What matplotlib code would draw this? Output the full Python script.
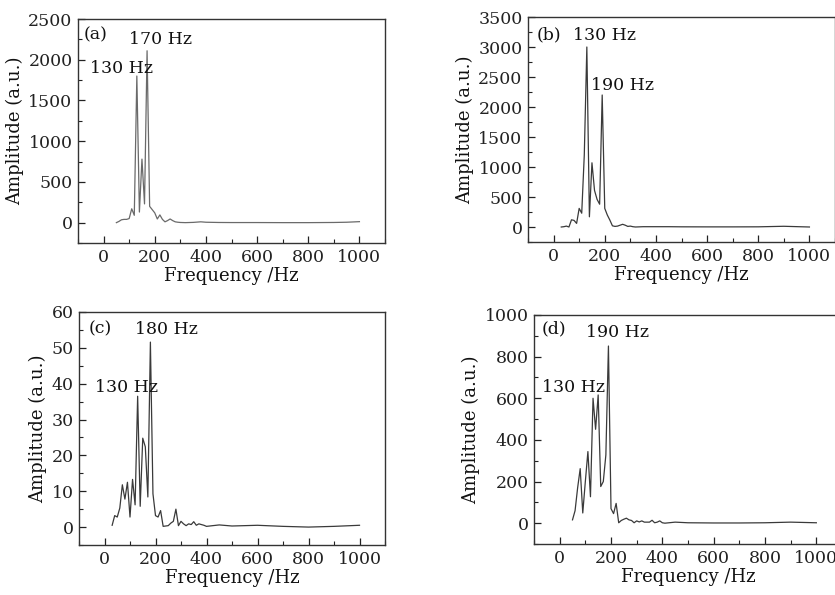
import matplotlib
matplotlib.use("Agg")
import matplotlib.pyplot as plt
from matplotlib.ticker import MultipleLocator, AutoMinorLocator

plt.rcParams['font.family'] = ['DejaVu Serif']
plt.rcParams['mathtext.fontset'] = 'dejavuserif'

# ---------------- data ----------------
freq_a = [50, 60, 70, 80, 90, 100, 110, 120, 130, 140, 150, 160, 170, 180, 190, 200,
          210, 220, 230, 240, 250, 260, 270, 280, 290, 300, 320, 350, 380, 400, 450,
          500, 600, 700, 800, 900, 950, 1000]
amp_a = [0, 15, 35, 40, 40, 50, 170, 90, 1800, 130, 780, 230, 2110, 200, 160, 120,
         45, 95, 40, 10, 25, 45, 25, 10, 5, 2, 0, 3, 10, 5, 2,
         1, 1, 0, 0, 2, 5, 12]

freq_b = [30, 40, 50, 60, 70, 80, 90, 100, 110, 120, 130, 140, 150, 160, 170, 180,
          190, 200, 210, 220, 230, 240, 250, 260, 270, 280, 290, 300, 310, 320, 350,
          400, 450, 500, 600, 700, 800, 900, 1000]
amp_b = [0, 5, 15, 0, 120, 110, 60, 310, 230, 1200, 3000, 170, 1070, 610, 460, 380,
         2200, 310, 200, 115, 20, 10, 15, 30, 45, 30, 10, 15, 5, 0, 5,
         5, 5, 3, 2, 2, 3, 12, 0]

freq_c = [30, 40, 50, 60, 70, 80, 90, 100, 110, 120, 130, 140, 150, 160, 170, 180,
          190, 200, 210, 220, 230, 240, 250, 260, 270, 280, 290, 300, 310, 320, 330,
          340, 350, 360, 370, 380, 390, 400, 450, 500, 600, 700, 800, 900, 1000]
amp_c = [0.5, 3.2, 2.8, 5.3, 11.8, 7.8, 12.5, 2.8, 13.3, 6.2, 36.5, 5.8, 24.8, 22.4, 8.4, 51.6,
         9.3, 3.2, 2.8, 4.6, 0.2, 0.3, 0.4, 1.1, 1.6, 5.0, 0.4, 1.6, 0.9, 0.4, 0.9,
         0.7, 1.5, 0.5, 0.9, 0.7, 0.5, 0.2, 0.6, 0.3, 0.5, 0.2, 0.0, 0.2, 0.5]

freq_d = [50, 60, 70, 80, 90, 100, 110, 120, 130, 140, 150, 160, 170, 180, 190, 200,
          210, 220, 230, 240, 250, 260, 270, 280, 290, 300, 310, 320, 330, 340, 350,
          360, 370, 380, 390, 400, 410, 450, 500, 600, 700, 800, 900, 1000]
amp_d = [16, 60, 170, 262, 49, 200, 344, 127, 600, 451, 616, 176, 200, 328, 851, 70,
         46, 95, 2, 13, 19, 24, 16, 13, 2, 11, 6, 11, 5, 5, 5,
         14, 2, 5, 11, 2, 0, 5, 2, 1, 1, 2, 5, 2]

panel_labels = ["(a)", "(b)", "(c)", "(d)"]
peak_labels = [["130 Hz", "170 Hz"], ["130 Hz", "190 Hz"], ["130 Hz", "180 Hz"], ["130 Hz", "190 Hz"]]
xlabel = "Frequency /Hz"
ylabel = "Amplitude (a.u.)"

W, H = 835, 595
fig = plt.figure(figsize=(W / 100, H / 100), dpi=100)

def rect(l, t, r, b):
    return [l / W, 1 - b / H, (r - l) / W, (b - t) / H]

axes_rects = [rect(78, 19, 385, 243), rect(528, 17, 835, 242),
              rect(79, 312, 385, 545), rect(534, 315, 842, 544)]
ylims = [(-250, 2500), (-250, 3500), (-5, 60), (-100, 1000)]
ymajors = [500, 500, 10, 200]
series = [(freq_a, amp_a), (freq_b, amp_b), (freq_c, amp_c), (freq_d, amp_d)]
line_colors = ["#6a6a6a", "#3a3a3a", "#3a3a3a", "#3a3a3a"]
# text positions in data coords: panel label, first peak label, second peak label
text_pos = [
    [(-33, 2310), (70, 1888), (224, 2250)],
    [(-19, 3200), (198, 3192), (268, 2363)],
    [(-17, 55.2), (85, 38.8), (241, 55)],
    [(-23, 935), (53, 652), (224, 916)],
]

fs = 12.5
for i in range(4):
    ax = fig.add_axes(axes_rects[i])
    f, a = series[i]
    ax.plot(f, a, color=line_colors[i], lw=0.9)
    ax.set_xlim(-100, 1100)
    ax.set_ylim(*ylims[i])
    ax.xaxis.set_major_locator(MultipleLocator(200))
    ax.xaxis.set_minor_locator(MultipleLocator(100))
    ax.yaxis.set_major_locator(MultipleLocator(ymajors[i]))
    ax.yaxis.set_minor_locator(MultipleLocator(ymajors[i] / 2))
    ax.tick_params(which='both', direction='in', top=False, right=False,
                   labelsize=fs, colors='#222222', pad=4)
    ax.tick_params(which='major', length=5, width=0.9)
    ax.tick_params(which='minor', length=3, width=0.8)
    for s in ax.spines.values():
        s.set_color('#333333')
        s.set_linewidth(1.0)
    ax.set_xlabel(xlabel, fontsize=fs + 0.5, labelpad=1, color='#111111')
    ax.set_ylabel(ylabel, fontsize=fs + 0.5, labelpad=3, color='#111111')
    tp = text_pos[i]
    ax.text(tp[0][0], tp[0][1], panel_labels[i], fontsize=fs, ha='center', va='center', color='#111111')
    ax.text(tp[1][0], tp[1][1], peak_labels[i][0], fontsize=fs, ha='center', va='center', color='#111111')
    ax.text(tp[2][0], tp[2][1], peak_labels[i][1], fontsize=fs, ha='center', va='center', color='#111111')

fig.savefig("out.png", dpi=100)
